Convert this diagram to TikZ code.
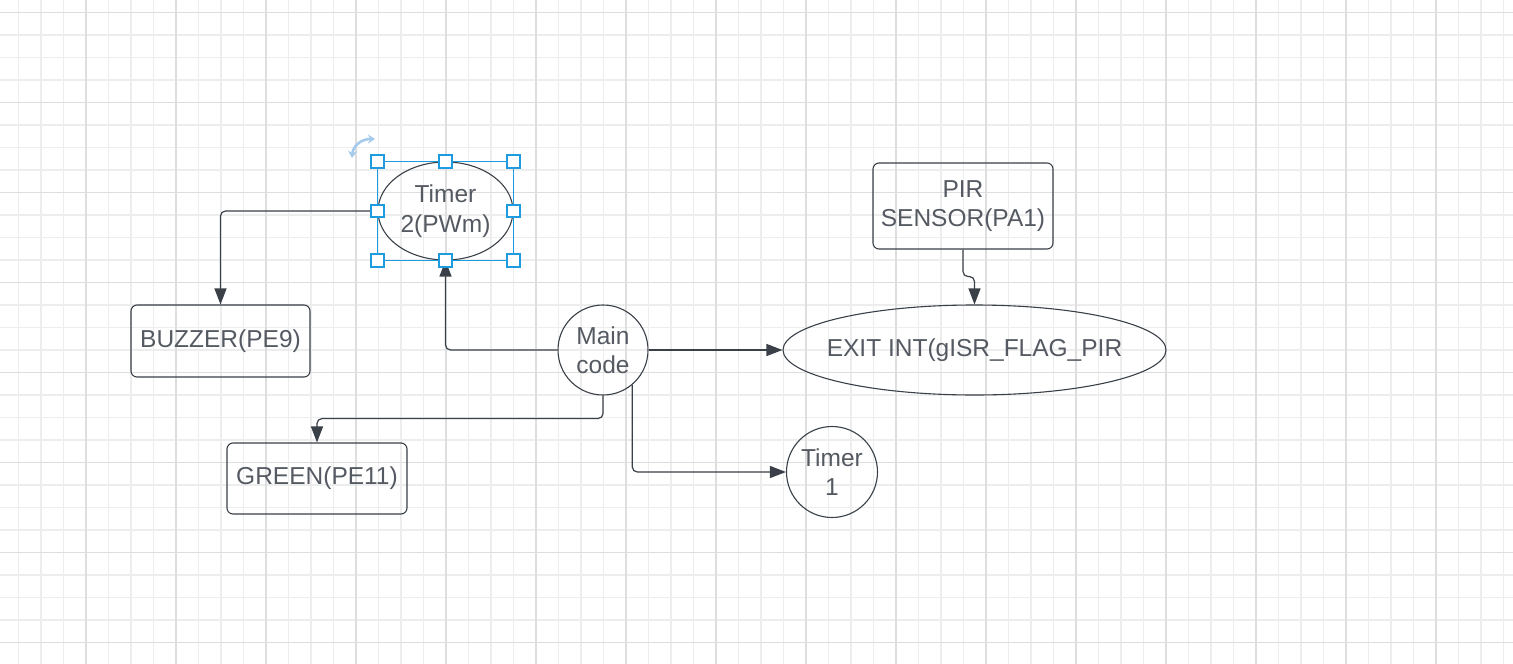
\documentclass[tikz,border=0pt]{standalone}
\usepackage{fontspec}
\setmainfont{Liberation Sans}
\usetikzlibrary{shapes.geometric,arrows.meta,calc}
\definecolor{strokec}{RGB}{58,64,72}
\definecolor{textc}{RGB}{85,90,98}
\definecolor{selc}{RGB}{28,156,222}
\definecolor{rotc}{RGB}{165,202,235}
\definecolor{gridmaj}{RGB}{222,222,222}
\definecolor{gridmin}{RGB}{237,237,237}
\newcommand{\mainfs}{\fontsize{24.5pt}{29.5pt}\selectfont}
\begin{document}
\begin{tikzpicture}[x=1pt,y=-1pt,
  shapebase/.style={draw=strokec, line width=1.1pt, inner sep=0pt, text=textc, font=\mainfs, align=center},
  box/.style={shapebase, rounded corners=6pt},
  ell/.style={shapebase, ellipse},
  circ/.style={shapebase, circle},
  lbl/.style={text=textc, font=\mainfs, inner sep=0pt},
  conn/.style={draw=strokec, line width=1.2pt, rounded corners=5pt, -{Triangle[length=16pt,width=12pt]}},
  handle/.style={draw=selc, fill=white, line width=1.8pt, minimum size=12.5pt, inner sep=0pt, shape=rectangle},
  gminor/.style={draw=gridmin, line width=1.2pt},
  gmajor/.style={draw=gridmaj, line width=1.5pt}
]
\useasboundingbox (0,0) rectangle (1513,664);
\fill[white] (0,0) rectangle (1513,664);
% grid
\foreach \i in {0,...,66} \draw[gminor] ({18.5+22.5*\i},0) -- ({18.5+22.5*\i},664);
\foreach \j in {0,...,28} \draw[gminor] (0,{12.5+22.5*\j}) -- (1513,{12.5+22.5*\j});
\foreach \i in {0,...,15} \draw[gmajor] ({86+90*\i},0) -- ({86+90*\i},664);
\foreach \j in {0,...,7} \draw[gmajor] (0,{12.5+90*\j}) -- (1513,{12.5+90*\j});

% nodes
\node[ell, minimum width=135pt, minimum height=98pt] (t2) at (445.5,211) {Timer\\2(PWm)};
\node[box, minimum width=179pt, minimum height=72pt] (buz) at (220.5,341) {BUZZER(PE9)};
\node[box, minimum width=180pt, minimum height=71pt] (grn) at (317,478.5) {GREEN(PE11)};
\node[circ, minimum size=90pt] (main) at (603,350) {Main\\code};
\node[ell, minimum width=383pt, minimum height=90pt, label={[lbl]center:EXIT INT(gISR\_FLAG\_PIR}] (exit) at (974.5,350) {};
\node[box, minimum width=180pt, minimum height=86pt] (pir) at (963,206) {PIR\\SENSOR(PA1)};
\node[circ, minimum size=91pt] (t1) at (832,472) {Timer\\1};

% connectors
\draw[conn] (t2.west) -| (buz.north);
\draw[conn] (main.west) -| (t2.south);
\draw[conn] (main.east) -- (exit.west);
\draw[conn] (pir.south) -- ($(pir.south)+(0,27)$) -| (exit.north);
\draw[conn] (main.south) -- ($(main.south)+(0,23)$) -| (grn.north);
\draw[conn] (main.-50) |- (t1.west);

% selection frame around Timer 2
\draw[selc, line width=1.6pt] (t2.west |- t2.north) rectangle (t2.east |- t2.south);
\foreach \a in {t2.west |- t2.north, t2.north, t2.east |- t2.north, t2.west, t2.east, t2.west |- t2.south, t2.south, t2.east |- t2.south}
  \node[handle] at (\a) {};
% rotate icon
\draw[rotc, line width=2.6pt, {Stealth[length=7pt,width=9pt]}-{Stealth[length=7pt,width=9pt]}]
  (352,158) .. controls (353,146) and (361,139) .. (375,139);
\end{tikzpicture}
\end{document}
